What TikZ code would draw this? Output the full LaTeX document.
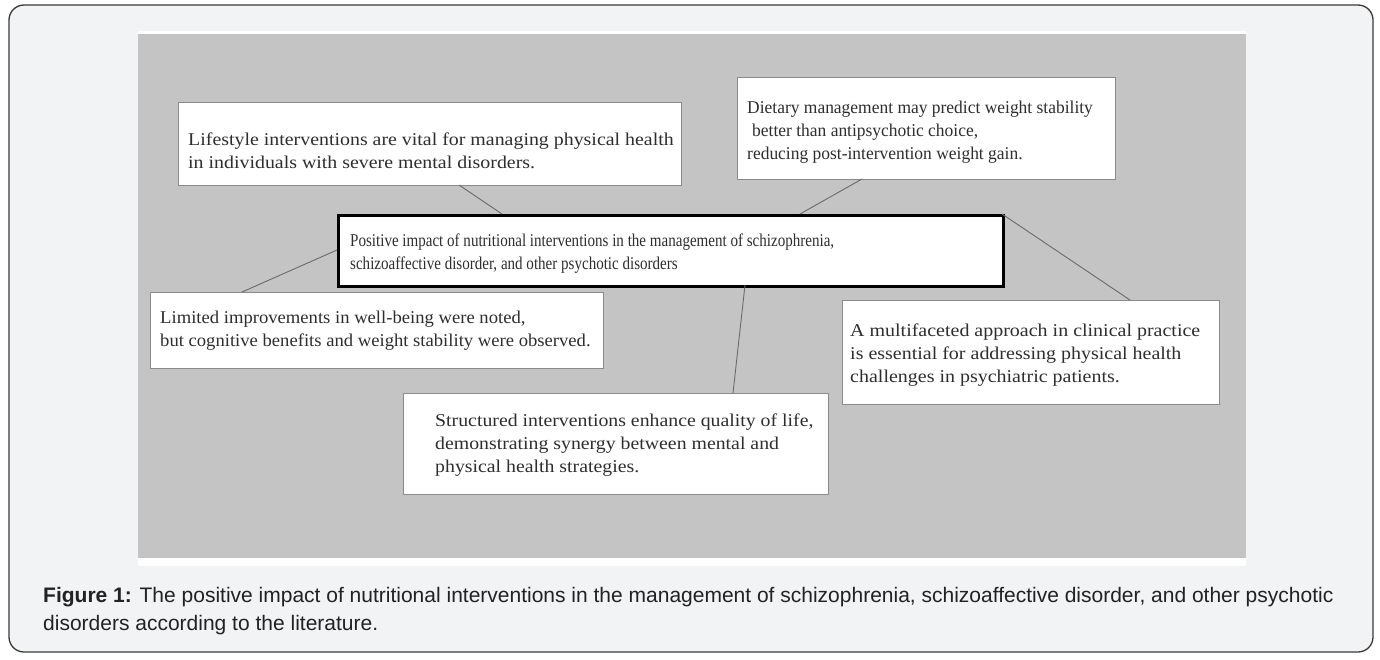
\documentclass[tikz,border=0pt]{standalone}
\usepackage{fontspec}
\setmainfont{Liberation Serif}
\newfontfamily\capfont{Liberation Sans}
\definecolor{pagebg}{HTML}{F2F3F5}
\definecolor{framec}{HTML}{3A3A3A}
\definecolor{imggray}{HTML}{C4C4C4}
\definecolor{boxline}{HTML}{8A8A8A}
\definecolor{txtc}{HTML}{2E2E2E}
\definecolor{linkc}{HTML}{6A6A6A}
\definecolor{capc}{HTML}{222222}
\tikzset{
  sidebox/.style={draw=boxline, line width=1.4pt, fill=white, inner sep=0pt, anchor=north west},
  mainbox/.style={draw=black, line width=2.6pt, fill=white, inner sep=0pt, anchor=north west},
  sidetxt/.style={text=txtc, align=left, inner sep=0pt, anchor=west,
    font=\fontsize{18}{23}\selectfont\addfontfeatures{FakeStretch=#1}},
  maintxt/.style={text=txtc, align=left, inner sep=0pt, anchor=west,
    font=\fontsize{18}{23}\selectfont\addfontfeatures{FakeStretch=0.836}},
  link/.style={draw=linkc, line width=0.9pt},
}
\begin{document}
\begin{tikzpicture}[x=1pt,y=-1pt]
\useasboundingbox (0,0) rectangle (1380,659);
\fill[white] (0,0) rectangle (1380,659);
\draw[framec, fill=pagebg, line width=1.3pt, rounded corners=15pt] (9,5) rectangle (1373,652);
\fill[white] (138,31) rectangle (1246,566);
\fill[imggray] (138,34) rectangle (1246,558);

% boxes
\node[sidebox, minimum width=503pt, minimum height=83pt] (a) at (178,102) {};
\node[sidebox, minimum width=378pt, minimum height=102pt] (b) at (737,77) {};
\node[mainbox, minimum width=665pt, minimum height=71pt] (m) at (337,214) {};
\node[sidebox, minimum width=453pt, minimum height=76pt] (c) at (150,292) {};
\node[sidebox, minimum width=377pt, minimum height=104pt] (d) at (842,300) {};
\node[sidebox, minimum width=425pt, minimum height=101pt] (e) at (403,393) {};

% connectors
\coordinate (a1) at (459,185);
\coordinate (m1) at (502,214);
\coordinate (b1) at (862,179);
\coordinate (m2) at (800,214);
\coordinate (c1) at (242,292);
\coordinate (m3) at (337,250);
\coordinate (d1) at (1130,300);
\coordinate (m4) at (1002,214);
\coordinate (e1) at (733,393);
\coordinate (m5) at (745,285);
\draw[link] (a1) -- (m1);
\draw[link] (b1) -- (m2);
\draw[link] (c1) -- (m3);
\draw[link] (d1) -- (m4);
\draw[link] (e1) -- (m5);

% texts
\node[sidetxt=1.105] (at) at (188,151) {Lifestyle interventions are vital for managing physical health\\in individuals with severe mental disorders.};
\node[sidetxt=0.97] (bt) at (747,132) {Dietary management may predict weight stability\\\hspace{5pt}better than antipsychotic choice,\\reducing post-intervention weight gain.};
\node[maintxt] (mt) at (350,253.5) {Positive impact of nutritional interventions in the management of schizophrenia,\\schizoaffective disorder, and other psychotic disorders};
\node[sidetxt=1.035] (ct) at (160,330.5) {Limited improvements in well-being were noted,\\but cognitive benefits and weight stability were observed.};
\node[sidetxt=1.11] (dt) at (850,355) {A multifaceted approach in clinical practice\\is essential for addressing physical health\\challenges in psychiatric patients.};
\node[sidetxt=1.10] (et) at (435,445) {Structured interventions enhance quality of life,\\demonstrating synergy between mental and\\physical health strategies.};

% caption
\node[text=capc, align=left, inner sep=0pt, anchor=west, font=\capfont\fontsize{21}{28}\selectfont] (cap) at (43,611) {\textbf{Figure 1:} The positive impact of nutritional interventions in the management of schizophrenia, schizoaffective disorder, and other psychotic\\disorders according to the literature.};
\end{tikzpicture}
\end{document}
